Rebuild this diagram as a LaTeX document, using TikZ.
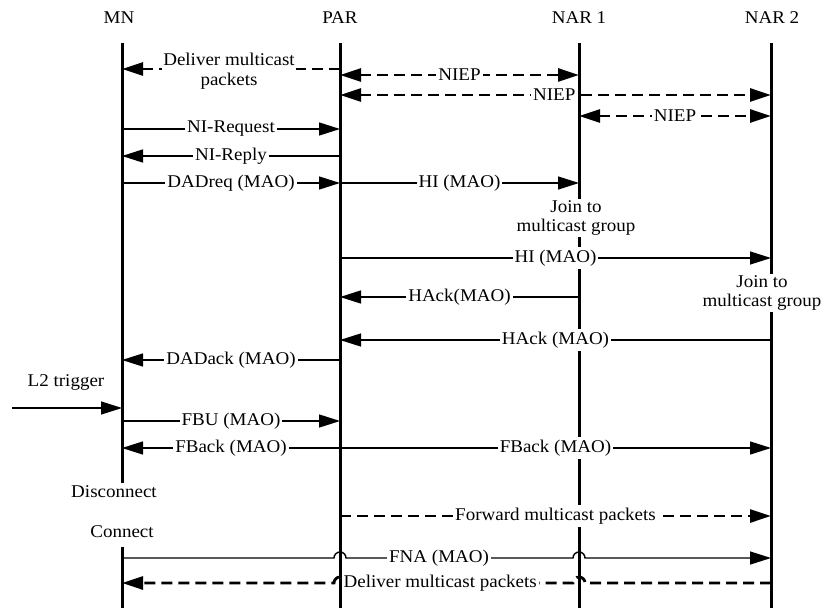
\documentclass[tikz,border=0pt]{standalone}
\usepackage{fontspec}
\setmainfont{Liberation Serif}[FakeStretch=1.06]
\usetikzlibrary{arrows.meta}
\tikzset{
  life/.style={line width=3bp},
  msg/.style={line width=1.4bp, -{Triangle[length=21bp,width=13bp]}},
  dmsg/.style={line width=2.8bp, dash pattern=on 11bp off 6bp, -{Triangle[length=21bp,width=13bp]}},
  bmsg/.style={dmsg, {Triangle[length=21bp,width=13bp]}-{Triangle[length=21bp,width=13bp]}},
  lbl/.style={fill=white, inner xsep=2bp, inner ysep=3bp, font=\fontsize{18}{21}\selectfont},
  note/.style={fill=white, inner sep=1bp, align=center, font=\fontsize{18}{20}\selectfont},
  head/.style={font=\fontsize{18}{21}\selectfont},
}
\begin{document}
\begin{tikzpicture}[x=1bp,y=-1bp]
  \useasboundingbox (0,0) rectangle (823,612);
  % lifeline heads
  \node[head] (hmn) at (119,18) {MN};
  \node[head] (hpar) at (340,18) {PAR};
  \node[head] (hnar1) at (579,18) {NAR 1};
  \node[head] (hnar2) at (772,18) {NAR 2};
  \coordinate (mn) at (122,43);
  \coordinate (par) at (340,43);
  \coordinate (nar1) at (579,43);
  \coordinate (nar2) at (771,43);
  % message rows
  \foreach \n/\y in {dmp/69,niepa/75,niepb/95,niepc/116,nireq/129,nirep/156,
                     dadreq/183,hib/258,hacka/297,hackb/340,dadack/360,l2/408,
                     fbu/421,fback/448,mnoff/483,mnon/547,fwd/516,fna/558,dlv/583,bot/608}
    \coordinate (\n) at (0,\y);
  % lifelines
  \draw[life] (mn) -- (mn |- mnoff);
  \draw[life] (mn |- mnon) -- (mn |- bot);
  \draw[life] (par) -- (par |- bot);
  \draw[life] (nar1) -- (nar1 |- bot);
  \draw[life] (nar2) -- (nar2 |- bot);
  % messages
  \draw[dmsg] (par |- dmp) -- (mn |- dmp);
  \node[note] (dmplbl) at (229,71) {Deliver multicast\\packets};
  \draw[bmsg] (par |- niepa) -- node[lbl]{NIEP} (nar1 |- niepa);
  \draw[bmsg] (par |- niepb) -- node[lbl,pos=0.497]{NIEP} (nar2 |- niepb);
  \draw[bmsg] (nar1 |- niepc) -- node[lbl]{NIEP} (nar2 |- niepc);
  \draw[msg] (mn |- nireq) -- node[lbl]{NI-Request} (par |- nireq);
  \draw[msg] (par |- nirep) -- node[lbl]{NI-Reply} (mn |- nirep);
  \draw[msg] (mn |- dadreq) -- node[lbl]{DADreq (MAO)} (par |- dadreq);
  \draw[msg] (par |- dadreq) -- node[lbl]{HI (MAO)} (nar1 |- dadreq);
  \node[note] (join1) at (576,218) {Join to\\multicast group};
  \draw[msg] (par |- hib) -- node[lbl]{HI (MAO)} (nar2 |- hib);
  \node[note] (join2) at (762,293) {Join to\\multicast group};
  \draw[msg] (nar1 |- hacka) -- node[lbl]{HAck(MAO)} (par |- hacka);
  \draw[msg] (nar2 |- hackb) -- node[lbl]{HAck (MAO)} (par |- hackb);
  \draw[msg] (par |- dadack) -- node[lbl]{DADack (MAO)} (mn |- dadack);
  \coordinate (l2src) at (12,408);
  \draw[msg] (l2src) -- (mn |- l2);
  \node[head] (l2lbl) at (66,382) {L2 trigger};
  \draw[msg] (mn |- fbu) -- node[lbl]{FBU (MAO)} (par |- fbu);
  \draw[msg] (par |- fback) -- node[lbl]{FBack (MAO)} (mn |- fback);
  \draw[msg] (par |- fback) -- node[lbl]{FBack (MAO)} (nar2 |- fback);
  \node[head] (disc) at (114,492) {Disconnect};
  \node[head] (conn) at (122,532) {Connect};
  \draw[dmsg] (par |- fwd) -- node[lbl]{Forward multicast packets} (nar2 |- fwd);
  \draw[msg] (mn |- fna) -- ([xshift=-6bp]par |- fna) arc[start angle=180,end angle=0,radius=6bp]
    -- node[lbl,pos=0.41]{FNA (MAO)} ([xshift=-6bp]nar1 |- fna) arc[start angle=180,end angle=0,radius=6bp]
    -- (nar2 |- fna);
  \draw[dmsg] (nar2 |- dlv) -- ([xshift=6bp]nar1 |- dlv) arc[start angle=0,end angle=180,radius=6bp]
    -- node[lbl,pos=0.585]{Deliver multicast packets} ([xshift=6bp]par |- dlv) arc[start angle=0,end angle=180,radius=6bp]
    -- (mn |- dlv);
\end{tikzpicture}
\end{document}
